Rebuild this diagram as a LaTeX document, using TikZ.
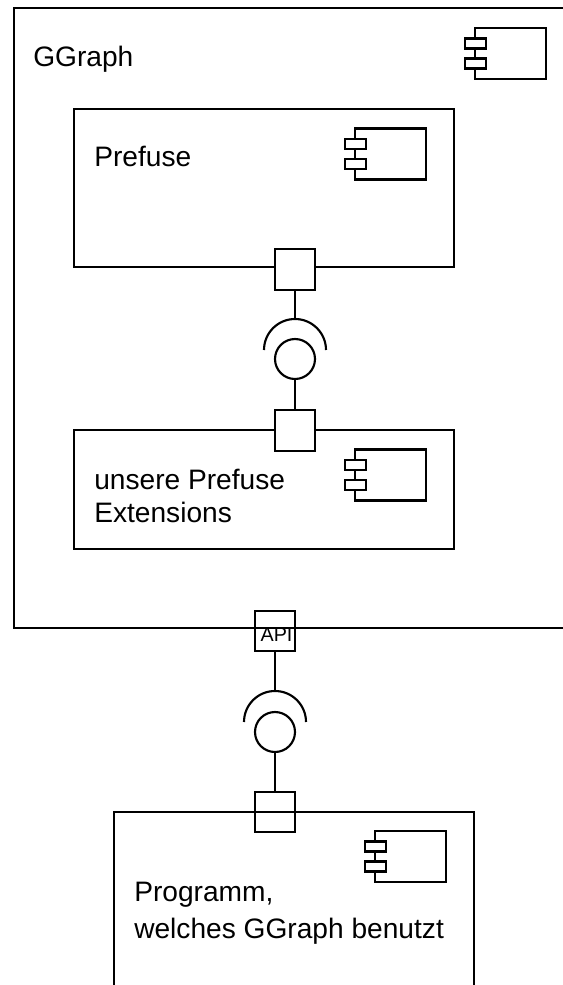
\documentclass[tikz,border=0pt]{standalone}
\usepackage{fontspec}
\setmainfont{Liberation Sans}
\tikzset{
  line/.style={draw=black,line width=1.6pt},
  comp/.style={line,fill=white,rectangle,inner sep=0pt,outer sep=0pt,minimum width=285pt,anchor=north west},
  portw/.style={line,fill=white,rectangle,inner sep=0pt,outer sep=0pt,minimum size=30.2pt},
  porto/.style={line,rectangle,inner sep=0pt,outer sep=0pt,minimum size=30.2pt},
  lolli/.style={line,fill=white,circle,inner sep=0pt,outer sep=0pt,minimum size=30pt},
  lab/.style={font=\fontsize{21.1}{21.1}\selectfont,anchor=base west,inner sep=0pt,text=black},
  iconbody/.style={line,rectangle,inner sep=0pt,outer sep=0pt,minimum width=53.4pt,minimum height=38.25pt,anchor=north west},
  iconpin/.style={line,fill=white,rectangle,inner sep=0pt,outer sep=0pt,minimum width=15.75pt,minimum height=7.5pt,anchor=north west},
}
\newcommand{\compicon}[3]{%
  \node[iconbody] (#1b) at (#2,#3) {};
  \node[iconpin] (#1p) at (#2-10,#3+10.5) {};
  \node[iconpin] (#1q) at (#2-10,#3+30.5) {};
}
\begin{document}
\begin{tikzpicture}[x=0.75pt,y=-0.75pt]
\useasboundingbox (0,0) rectangle (563,985);
% outer open component
\coordinate (otr) at (563,8);
\coordinate (otl) at (14,8);
\coordinate (obl) at (14,628);
\coordinate (obr) at (563,628);
\draw[line,line join=miter] (otr) -- (otl) -- (obl) -- (obr);
\node[lab] (ggraph) at (33,66) {GGraph};
\compicon{a}{475}{28}
% Prefuse
\node[comp,minimum height=118.5pt] (prefuse) at (74,109) {};
\node[lab] (prefuselab) at (94,166) {Prefuse};
\compicon{b}{355}{128.5}
\node[portw] (p1) at (295,269.5) {};
% Extensions
\node[comp,minimum height=89.25pt] (ext) at (74,430) {};
\node[lab] (extlab1) at (94,489) {unsere Prefuse};
\node[lab] (extlab2) at (94,522) {Extensions};
\compicon{c}{355}{449.5}
\node[portw] (p2) at (295,430.5) {};
% interface 1
\node[lolli] (l1) at (295,359) {};
\coordinate (s1a) at (264,350);
\coordinate (s1t) at (295,319);
\draw[line] (s1a) arc[start angle=180,end angle=0,radius=23.25pt];
\draw[line] (p1.south) -- (s1t);
\draw[line] (l1.south) -- (p2.north);
% API
\node[porto] (api) at (275,631) {};
\node[font=\fontsize{14.8}{14.8}\selectfont,inner sep=0pt] (apilab) at (276.5,635) {API};
% interface 2
\node[lolli] (l2) at (275,732) {};
\coordinate (s2a) at (244,722);
\coordinate (s2t) at (275,691);
\draw[line] (s2a) arc[start angle=180,end angle=0,radius=23.25pt];
\draw[line] (api.south) -- (s2t);
% Program
\coordinate (pbl) at (114,985);
\coordinate (ptl) at (114,812);
\coordinate (ptr) at (474,812);
\coordinate (pbr) at (474,985);
\draw[line,line join=miter] (pbl) -- (ptl) -- (ptr) -- (pbr);
\node[porto] (p3) at (275,812) {};
\draw[line] (l2.south) -- (p3.north);
\node[lab] (proglab1) at (134,901) {Programm,};
\node[lab] (proglab2) at (134,938) {welches GGraph benutzt};
\compicon{d}{375}{831}
\end{tikzpicture}
\end{document}
